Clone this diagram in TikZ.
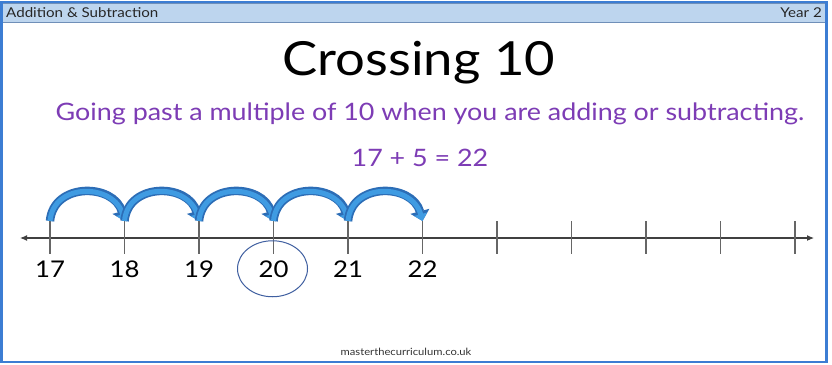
\documentclass[tikz,border=0pt]{standalone}
\usepackage{fontspec}
\setmainfont[FakeStretch=1.12]{Lato}
\usetikzlibrary{
    arrows.meta,
    shapes.geometric,
    calc
}

\definecolor{frameblue}{HTML}{3C7DD3}
\definecolor{headerblue}{HTML}{BDD5EE}
\definecolor{headerline}{HTML}{6F8FB8}
\definecolor{textpurple}{HTML}{7D3CB5}
\definecolor{jumpdark}{HTML}{2C6DB6}
\definecolor{jumplight}{HTML}{3F9BE2}
\definecolor{ringblue}{HTML}{3F5FA0}

\begin{document}
\begin{tikzpicture}[
    x=1pt, y=-1pt,
    frame/.style={draw=frameblue, line width=2.5pt},
    headbar/.style={fill=headerblue, draw=headerline, line width=0.8pt},
    headtext/.style={font=\fontsize{13.5}{15}\selectfont, text=black!85, inner sep=0pt},
    title/.style={font=\fontsize{47}{54}\selectfont, anchor=base, inner sep=0pt},
    subtitle/.style={font=\fontsize{24}{28}\selectfont, text=textpurple, anchor=base, inner sep=0pt},
    numline/.style={draw=black!75, line width=1.1pt, {Latex[length=7pt,width=6pt]}-{Latex[length=7pt,width=6pt]}},
    tickline/.style={draw=black!60, line width=1.1pt},
    numlabel/.style={font=\fontsize{23}{26}\selectfont, anchor=base, inner sep=0pt},
    jumpedge/.style={draw=jumpdark, line width=8.5pt, -{Triangle[width=19pt,length=10pt]}},
    jumpfill/.style={draw=jumplight, line width=5pt, -{Triangle[width=13pt,length=7pt]}},
    ring/.style={ellipse, draw=ringblue, line width=1pt, minimum width=70pt, minimum height=56pt}
]
\useasboundingbox (0,0) rectangle (832,364);

% Slide frame and header bar
\fill[white] (0,0) rectangle (832,364);
\draw[headbar] (2,3) rectangle (826,22);
\draw[frame] (1.5,2) rectangle (826.5,362);
\node[headtext, anchor=west] (topic) at (6,13) {Addition \& Subtraction};
\node[headtext, anchor=east] (year) at (822,13) {Year 2};

% Title and explanation
\node[title] (heading) at (419,75) {Crossing 10};
\node[subtitle] (meaning) at (430,120) {Going past a multiple of 10 when you are adding or subtracting.};
\node[subtitle] (sum) at (420,166) {17 + 5 = 22};

% Number line with ticks
\coordinate (line_left) at (20,238);
\coordinate (line_right) at (814,238);
\draw[numline] (line_left) -- (line_right);
\foreach \v [count=\k from 0] in {17,...,27} {
    \coordinate (top\v) at (50+74.5*\k,221);
    \coordinate (bot\v) at (50+74.5*\k,254);
    \draw[tickline] (top\v) -- (bot\v);
}
\foreach \v [count=\k from 0] in {17,...,22}
    \node[numlabel] (lbl\v) at (50+74.5*\k,277) {\v};
\node[ring] (ring20) at ($(lbl20.center)+(-1,0)$) {};

% Jumps of one
\foreach \v in {17,...,21} {
    \pgfmathtruncatemacro\w{\v+1}
    \draw[jumpedge] (top\v) to[out=85,in=105,looseness=1.35] (top\w);
    \draw[jumpfill] (top\v) to[out=85,in=105,looseness=1.35] (top\w);
}

% Footer
\node[font=\fontsize{10}{12}\selectfont, anchor=base, text=black!80] (site) at (406,355) {masterthecurriculum.co.uk};

\end{tikzpicture}
\end{document}
